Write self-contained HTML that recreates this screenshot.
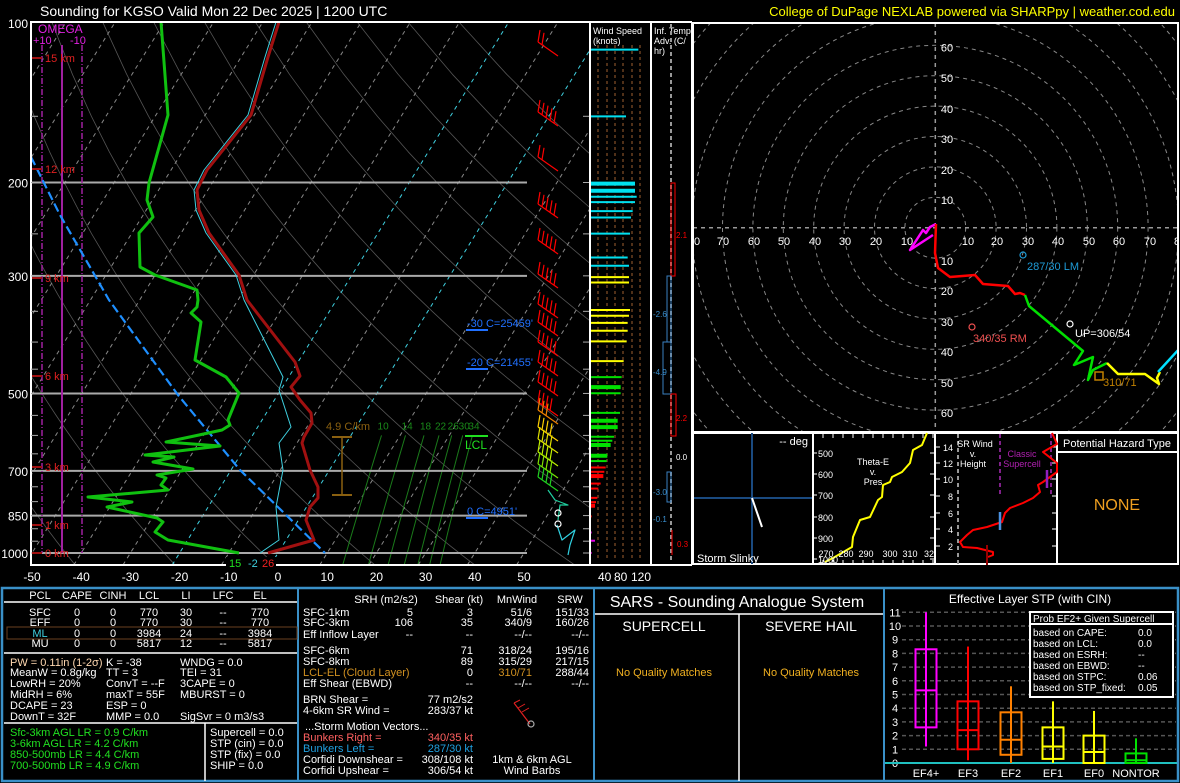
<!DOCTYPE html>
<html><head><meta charset="utf-8">
<style>
html,body{margin:0;padding:0;background:#000;}
svg{display:block;font-family:"Liberation Sans",sans-serif;}
</style></head>
<body>
<svg id="s" width="1180" height="783" viewBox="0 0 1180 783" xmlns="http://www.w3.org/2000/svg">
<rect width="1180" height="783" fill="#000"/>
<defs>
<clipPath id="cs"><rect x="31" y="22" width="559" height="543"/></clipPath>
<clipPath id="ch"><rect x="693" y="23" width="485" height="409"/></clipPath>
</defs>
<g id="skew" clip-path="url(#cs)"></g>
<g id="hodo" clip-path="url(#ch)"></g>
<g id="rest"></g>
<text x="40" y="16" fill="#fff" font-size="14">Sounding for KGSO Valid  Mon 22 Dec 2025 | 1200 UTC</text>
<text x="1175" y="16" fill="#ffff00" font-size="13" text-anchor="end">College of DuPage NEXLAB powered via SHARPpy | weather.cod.edu</text>
</svg>
<script>
var NS="http://www.w3.org/2000/svg";
function el(par,tag,attrs,txt){var e=document.createElementNS(NS,tag);for(var k in attrs)e.setAttribute(k,attrs[k]);if(txt!==undefined)e.textContent=txt;document.getElementById(par).appendChild(e);return e;}
function line(par,x1,y1,x2,y2,c,w,d){var a={x1:x1,y1:y1,x2:x2,y2:y2,stroke:c,"stroke-width":w||1};if(d)a["stroke-dasharray"]=d;return el(par,"line",a);}
function pl(par,pts,c,w,d){var a={points:pts.map(function(p){return p[0]+","+p[1]}).join(" "),fill:"none",stroke:c,"stroke-width":w||1,"stroke-linejoin":"round"};if(d)a["stroke-dasharray"]=d;return el(par,"polyline",a);}
function tx(par,x,y,s,c,fs,anc){return el(par,"text",{x:x,y:y,fill:c,"font-size":fs||11,"text-anchor":anc||"start"},s);}
function Y(p){return 553+230.2*Math.log(p/1000);}
function X(T,y){return 278+4.92*T+0.62*(553-y);}

/* ---------- SKEW-T ---------- */
for(var th=230;th<=470;th+=20){var pts=[];for(var p=1050;p>=100;p-=25){var T=th*Math.pow(p/1000,0.286)-273.15;var y=Y(p);pts.push([X(T,y).toFixed(1),y.toFixed(1)]);}pl("skew",pts,"#555",0.8);}
for(var T=-120;T<=50;T+=10){var c=(T==-20||T==0)?"#3fd0e0":"#888";var y1=565,y2=22;line("skew",X(T,y1),y1,X(T,y2),y2,c,1,"4,4");}
[10,14,18,22,26,30,34].forEach(function(w){var pts=[];for(var p=1050;p>=600;p-=50){var e=w*p/(622+w);var l=Math.log(e/6.112);var Td=243.5*l/(17.67-l);var y=Y(p);pts.push([X(Td,y).toFixed(1),y.toFixed(1)]);}pl("skew",pts,"#1a7a1a",1);var e=w*600/(622+w),l=Math.log(e/6.112),Td=243.5*l/(17.67-l);tx("skew",X(Td,Y(600))-4,Y(600)-6,String(w),"#1a8a1a",10);});
[200,300,500,700,850,1000].forEach(function(p){line("skew",31,Y(p),527,Y(p),"#aaa",2);});
line("skew",62,45,62,553,"#a020a0",2);
line("skew",42,45,42,553,"#a020a0",1.5,"6,2,1,2");
line("skew",82,45,82,553,"#a020a0",1.5,"6,2,1,2");
pl("skew",[[31,157],[60,215],[109,300],[178,395],[240,470],[325,553]],"#1e8fff",2.2,"9,4");
pl("skew",[[276,22],[265,57],[248,115],[204,170],[194,190],[196,210],[206,233],[236,275],[244,300],[283,377],[279,390],[291,427],[279,443],[283,470],[276,507],[279,540],[260,553]],"#3fd0e0",1);
pl("skew",[[279,22],[268,57],[251,115],[207,170],[197,190],[199,210],[209,233],[239,275],[247,300],[295,362],[300,376],[291,387],[300,400],[311,413],[312,423],[304,437],[302,443],[310,470],[318,487],[318,498],[310,507],[306,520],[314,540],[268,553]],"#a01010",3);
pl("skew",[[161,22],[168,115],[149,183],[147,200],[153,217],[139,233],[140,267],[155,275],[197,290],[198,300],[197,307],[191,313],[201,322],[195,360],[226,377],[239,393],[228,420],[230,425],[222,430],[199,435],[166,442],[220,446],[145,455],[174,457],[153,462],[193,469],[157,475],[166,478],[161,485],[168,490],[88,497],[132,502],[107,507],[157,518],[163,522],[155,532],[168,540],[239,553]],"#10c010",3);
line("skew",342,437,342,495,"#8a6010",1.5);line("skew",332,437,352,437,"#8a6010",2);line("skew",332,495,352,495,"#8a6010",2);
function barb(y,c,n){var x0=538,x1=558;line("skew",x0,y-8,x1,y+6,c,1.2);for(var i=0;i<n;i++){var bx=x0+i*4,by=y-8+i*2.8;line("skew",bx,by,bx+2,by-12,c,1.2);}}
[[50,"#f00",2],[120,"#f00",5],[165,"#f00",2],[212,"#f00",5],[248,"#f00",5],[282,"#f00",5],[312,"#f00",5],[330,"#f00",5],[350,"#f00",5],[370,"#f00",5],[390,"#f00",5],[410,"#f00",4],[418,"#f08000",3],[435,"#ffd000",4],[447,"#e0e000",4],[460,"#c0f000",4],[472,"#80e000",4],[485,"#20d020",4]].forEach(function(b){barb(b[0],b[1],b[2]);});
pl("skew",[[548,490],[555,500],[568,505],[560,505],[558,520]],"#20d0a0",1.2);
pl("skew",[[557,525],[562,540],[575,530],[570,545],[568,555]],"#30d0e0",1.2);
el("skew","circle",{cx:558,cy:513,r:3,fill:"none",stroke:"#fff","stroke-width":1.2});
el("skew","circle",{cx:558,cy:524,r:3,fill:"none",stroke:"#fff","stroke-width":1.2});

el("rest","rect",{x:31,y:22,width:559,height:543,fill:"none",stroke:"#fff","stroke-width":2});
[[100,"100"],[200,"200"],[300,"300"],[500,"500"],[700,"700"],[850,"850"],[1000,"1000"]].forEach(function(p){tx("rest",28,Y(p[0])+5,p[1],"#fff",12,"end");});
for(var p=150;p<=1000;p+=50){var y=Y(p);line("rest",31,y,38,y,"#aaa",1);line("rest",583,y,590,y,"#aaa",1);}
for(var T=-50;T<=50;T+=10){tx("rest",X(T,553),581,String(T),"#fff",12,"middle");}
[["15 km",58],["12 km",169],["9 km",278],["6 km",376],["3 km",467],["1 km",525],["0 km",553]].forEach(function(h){line("rest",32,h[1],42,h[1],"#a01010",2);tx("rest",45,h[1]+4,h[0],"#e02020",11);});
tx("rest",38,33,"OMEGA","#e020e0",12);tx("rest",33,44,"+10","#e020e0",11);tx("rest",70,44,"-10","#e020e0",11);
tx("rest",326,430,"4.9 C/km","#8a6010",11);
tx("rest",465,449,"LCL","#20e020",12);line("rest",465,436,488,436,"#20e020",2);
[["-30 C=25459'",327],["-20 C=21455'",366],["0 C=4951'",515]].forEach(function(t){tx("rest",467,t[1],t[0],"#2070ff",11);line("rest",466,t[1]+3,488,t[1]+3,"#2070ff",2);});
el("rest","rect",{x:226,y:557,width:50,height:10,fill:"#000"});
tx("rest",229,567,"15","#20e020",11);tx("rest",248,567,"-2","#3fd0e0",11);tx("rest",262,567,"26","#f02020",11);

/* ---------- wind speed column ---------- */
line("rest",590,22,590,565,"#fff",2);line("rest",651,22,651,565,"#fff",2);line("rest",692,22,692,565,"#fff",2);line("rest",590,565,692,565,"#fff",2);line("rest",590,22,692,22,"#fff",2);
[598,607,615,623,632,640].forEach(function(x){line("rest",x,45,x,560,"#6a4020",1.5,"3,3");});
tx("rest",593,34,"Wind Speed","#fff",9);tx("rest",593,44,"(knots)","#fff",9);
var bars=[[83,175,"#00e0f0",2],[270,138,"#00e0f0",2],[458,165,"#00e0f0",4],[478,165,"#00e0f0",4],[495,170,"#00e0f0",2],[510,165,"#00e0f0",2],[535,158,"#00e0f0",2],[553,153,"#00e0f0",2],[598,150,"#00e0f0",2],[665,143,"#00e0f0",2],[688,147,"#00e0f0",2],[720,147,"#ffff00",2],[735,147,"#ffff00",2],[812,150,"#ffff00",2],[828,147,"#ffff00",2],[848,143,"#ffff00",2],[870,143,"#ffff00",2],[900,140,"#ffff00",2],[955,131,"#ffff00",2],[1000,125,"#00e000",2],[1028,122,"#00e000",4],[1045,122,"#00e000",2],[1100,120,"#00e000",2],[1122,113,"#00e000",4],[1140,113,"#00e000",4],[1167,102,"#00e000",2],[1178,97,"#00e000",2],[1190,92,"#00e000",4],[1220,82,"#00e000",4],[1235,80,"#00e000",2],[1253,77,"#f00",2],[1265,73,"#f00",2],[1277,70,"#f00",4],[1298,62,"#f00",2],[1312,55,"#f00",2],[1338,52,"#f00",2],[1350,48,"#f00",2],[1360,45,"#f00",4],[1390,35,"#f00",2],[1435,35,"#e000e0",2],[1458,45,"#e000e0",2],[1492,35,"#e000e0",2]];
bars.forEach(function(b){var y=20+b[0]/2.8;line("rest",591,y,580+b[1]/3,y,b[2],b[3]);});
tx("rest",598,581,"40","#fff",12);tx("rest",614,581,"80","#fff",12);tx("rest",631,581,"120","#fff",12);
tx("rest",654,34,"Inf. Temp.","#fff",9);tx("rest",654,44,"Adv. (C/","#fff",9);tx("rest",654,54,"hr)","#fff",9);
line("rest",671,24,671,563,"#999",2,"4,3");
el("rest","rect",{x:671,y:183,width:4,height:93,fill:"none",stroke:"#f00","stroke-width":1});tx("rest",676,238,"2.1","#f00",8);
el("rest","rect",{x:667,y:276,width:4,height:66,fill:"none",stroke:"#3a80c0","stroke-width":1});tx("rest",653,317,"-2.6","#3a90d0",8);
el("rest","rect",{x:663,y:342,width:8,height:52,fill:"none",stroke:"#3a80c0","stroke-width":1});tx("rest",653,375,"-4.9","#3a90d0",8);
el("rest","rect",{x:671,y:394,width:5,height:42,fill:"none",stroke:"#f00","stroke-width":1});tx("rest",676,421,"2.2","#f00",8);
tx("rest",676,460,"0.0","#fff",8);
el("rest","rect",{x:667,y:472,width:4,height:30,fill:"none",stroke:"#3a80c0","stroke-width":1});tx("rest",653,495,"-3.0","#3a90d0",8);
tx("rest",653,522,"-0.1","#3a90d0",8);line("rest",672,530,672,555,"#f00",1);tx("rest",677,547,"0.3","#f00",8);

/* ---------- HODOGRAPH ---------- */
var cx=935.3,cy=227.7,r=30.4;
for(var k=1;k<=10;k++)el("hodo","circle",{cx:cx,cy:cy,r:k*r,fill:"none",stroke:"#888","stroke-width":1,"stroke-dasharray":"4,4"});
line("hodo",693,cy,1178,cy,"#999",1.5,"4,4");line("hodo",cx,23,cx,432,"#999",1.5,"4,4");
[[697,"0"],[723,"70"],[754,"60"],[784,"50"],[815,"40"],[845,"30"],[876,"20"],[907,"10"],[968,"10"],[997,"20"],[1028,"30"],[1058,"40"],[1089,"50"],[1119,"60"],[1150,"70"],[1177,"8"]].forEach(function(l){tx("hodo",l[0],245,l[1],"#fff",11,"middle");});
[[47.7,60],[78,50],[109,40],[139,30],[170,20],[200,10],[261,10],[291,20],[322,30],[352,40],[383,50],[413,60]].forEach(function(l){tx("hodo",947,l[0]+4,String(l[1]),"#fff",11,"middle");});
pl("hodo",[[933,235],[910,250],[923,230],[926,233],[930,227],[936,224]],"#ff00ff",2.5);
pl("hodo",[[936,224],[935,253],[938,268],[950,277],[975,275],[983,284],[1008,286],[1015,294],[1020,293],[1025,295]],"#f00",2.5);
pl("hodo",[[1025,295],[1029,306],[1083,351],[1074,365],[1093,357],[1088,380],[1093,370],[1107,363]],"#00e000",2.5);
pl("hodo",[[1107,363],[1118,374],[1145,374],[1159,384],[1157,378],[1160,372]],"#ffff00",2.5);
pl("hodo",[[1158,372],[1180,348]],"#00e0ff",2.5);
el("hodo","circle",{cx:1023,cy:255,r:3,fill:"none",stroke:"#1e9bd7","stroke-width":1.2});tx("hodo",1027,270,"287/30 LM","#1e9bd7",11);
el("hodo","circle",{cx:972,cy:327,r:3,fill:"none",stroke:"#f05050","stroke-width":1.2});tx("hodo",973,342,"340/35 RM","#f05050",11);
el("hodo","circle",{cx:1070,cy:324,r:3,fill:"none",stroke:"#fff","stroke-width":1.2});tx("hodo",1075,337,"UP=306/54","#fff",11);
el("hodo","rect",{x:1095,y:372,width:8,height:8,fill:"none",stroke:"#c08000","stroke-width":1.5});tx("hodo",1103,386,"310/71","#c08000",11);
el("rest","rect",{x:693,y:23,width:485,height:409,fill:"none",stroke:"#fff","stroke-width":2});

/* ---------- small panels ---------- */
el("rest","rect",{x:693,y:433,width:485,height:131,fill:"none",stroke:"#fff","stroke-width":2});
[813,935,1057].forEach(function(x){line("rest",x,433,x,564,"#fff",2);});
line("rest",752,433,752,564,"#1a4a80",2);line("rest",694,498,812,498,"#1a4a80",2);line("rest",752,498,762,527,"#fff",2);
tx("rest",808,445,"-- deg","#fff",11,"end");tx("rest",697,562,"Storm Slinky","#fff",11);
pl("rest",[[927,433],[922,445],[913,450],[910,463],[902,472],[892,477],[890,482],[883,485],[882,497],[878,500],[870,517],[860,520],[853,537],[852,547],[833,558],[825,562]],"#ffff00",2);
[[453,"500"],[474,"600"],[495,"700"],[517,"800"],[538,"900"],[559,"1000"]].forEach(function(l){tx("rest",818,l[0]+4,l[1],"#fff",9);line("rest",813,l[0],817,l[0],"#fff",1);line("rest",930,l[0],935,l[0],"#fff",1);});
[[826,"270"],[846,"280"],[866,"290"],[890,"300"],[910,"310"],[929,"32"]].forEach(function(l){tx("rest",l[0],557,l[1],"#fff",9,"middle");});
for(var x=823;x<935;x+=10){line("rest",x,434,x,438,"#fff",1);line("rest",x,560,x,564,"#fff",1);}
tx("rest",873,465,"Theta-E","#fff",9,"middle");tx("rest",873,475,"v.","#fff",9,"middle");tx("rest",873,485,"Pres","#fff",9,"middle");
line("rest",958,434,958,564,"#999",2,"4,3");
line("rest",1000,434,1000,496,"#80208a",2,"4,3");line("rest",1051,434,1051,496,"#80208a",2,"4,3");
[[447,"14"],[463,"12"],[479,"10"],[496,"8"],[513,"6"],[529,"4"],[546,"2"]].forEach(function(l){tx("rest",953,l[0]+4,l[1],"#fff",9,"end");line("rest",935,l[0],940,l[0],"#fff",1);line("rest",1052,l[0],1057,l[0],"#fff",1);});
tx("rest",975,447,"SR Wind","#fff",9,"middle");tx("rest",973,457,"v.","#fff",9,"middle");tx("rest",973,467,"Height","#fff",9,"middle");
tx("rest",1022,457,"Classic","#b020b0",9,"middle");tx("rest",1022,467,"Supercell","#b020b0",9,"middle");
pl("rest",[[1052,433],[1057,444],[1043,452],[1057,463],[1057,472],[1043,482],[1038,485],[1040,492],[1033,498],[1023,503],[1010,508],[1005,513],[1002,522],[987,527],[973,530],[967,535],[960,542],[963,547],[977,548],[993,552],[993,555],[988,557]],"#f00",2);
line("rest",1000,512,1000,530,"#4a90e0",2.5);line("rest",1047,470,1047,488,"#9020c0",2.5);line("rest",987,545,987,565,"#900",2);
line("rest",1057,452,1178,452,"#fff",2);
tx("rest",1117,447,"Potential Hazard Type","#fff",11,"middle");tx("rest",1117,510,"NONE","#f0a020",16,"middle");

/* ---------- BOTTOM PANEL ---------- */
el("rest","rect",{x:2,y:588,width:1176,height:193,fill:"none",stroke:"#3a90c8","stroke-width":2.5});
[298,594,884].forEach(function(x){line("rest",x,588,x,782,"#3a90c8",2);});
line("rest",4,602,297,602,"#fff",1.5);line("rest",4,653,297,653,"#fff",1.5);line("rest",4,723,297,723,"#fff",1.5);line("rest",205,723,205,781,"#fff",1.5);
[["PCL",40],["CAPE",77],["CINH",113],["LCL",149],["LI",186],["LFC",223],["EL",260]].forEach(function(h){tx("rest",h[1],599,h[0],"#fff",11,"middle");});
el("rest","rect",{x:7,y:627,width:290,height:12,fill:"none",stroke:"#6a4020","stroke-width":1});
[[616,"SFC","#fff",["0","0","770","30","--","770"]],[626,"EFF","#fff",["0","0","770","30","--","770"]],[637,"ML","#3fd0e0",["0","0","3984","24","--","3984"]],[647,"MU","#fff",["0","0","5817","12","--","5817"]]].forEach(function(r){tx("rest",40,r[0],r[1],r[2],11,"middle");[77,113,149,186,223,260].forEach(function(x,i){tx("rest",x,r[0],r[3][i],"#fff",11,"middle");});});
var ind=[[666,"PW = 0.11in (1-2σ)","K = -38","WNDG = 0.0"],[676,"MeanW = 0.8g/kg","TT = 3","TEI = 31"],[687,"LowRH = 20%","ConvT = --F","3CAPE = 0"],[698,"MidRH = 6%","maxT = 55F","MBURST = 0"],[709,"DCAPE = 23","ESP = 0",""],[720,"DownT = 32F","MMP = 0.0","SigSvr = 0 m3/s3"]];
ind.forEach(function(r,i){tx("rest",10,r[0],r[1],i==0?"#ffd8b0":"#fff",11);tx("rest",106,r[0],r[2],"#fff",11);tx("rest",180,r[0],r[3],"#fff",11);});
[[736,"Sfc-3km AGL LR = 0.9 C/km"],[747,"3-6km AGL LR = 4.2 C/km"],[758,"850-500mb LR = 4.4 C/km"],[769,"700-500mb LR = 4.9 C/km"]].forEach(function(r){tx("rest",10,r[0],r[1],"#20e020",11);});
[[736,"Supercell = 0.0"],[747,"STP (cin) = 0.0"],[758,"STP (fix) = 0.0"],[769,"SHIP = 0.0"]].forEach(function(r){tx("rest",210,r[0],r[1],"#fff",11);});
tx("rest",386,603,"SRH (m2/s2)","#fff",11,"middle");tx("rest",459,603,"Shear (kt)","#fff",11,"middle");tx("rest",517,603,"MnWind","#fff",11,"middle");tx("rest",570,603,"SRW","#fff",11,"middle");
var mid=[[616,"SFC-1km","5","3","51/6","151/33","#fff"],[626,"SFC-3km","106","35","340/9","160/26","#fff"],[638,"Eff Inflow Layer","--","--","--/--","--/--","#fff"],[654,"SFC-6km","","71","318/24","195/16","#fff"],[665,"SFC-8km","","89","315/29","217/15","#fff"],[676,"LCL-EL (Cloud Layer)","","0","310/71","288/44","#d09020"],[687,"Eff Shear (EBWD)","","--","--/--","--/--","#fff"]];
mid.forEach(function(r){tx("rest",303,r[0],r[1],r[6],11);tx("rest",413,r[0],r[2],"#fff",11,"end");tx("rest",473,r[0],r[3],"#fff",11,"end");tx("rest",532,r[0],r[4],r[6]=="#fff"?"#fff":"#d09020",11,"end");tx("rest",589,r[0],r[5],"#fff",11,"end");});
var sm=[[703,"BRN Shear =","77 m2/s2","#fff","#fff"],[714,"4-6km SR Wind =","283/37 kt","#fff","#fff"],[741,"Bunkers Right =","340/35 kt","#ff6060","#ff6060"],[752,"Bunkers Left =","287/30 kt","#20a0e0","#20a0e0"],[763,"Corfidi Downshear =","308/108 kt","#fff","#fff"],[774,"Corfidi Upshear =","306/54 kt","#fff","#fff"]];
sm.forEach(function(r){tx("rest",303,r[0],r[1],r[3],11);tx("rest",473,r[0],r[2],r[4],11,"end");});
tx("rest",305,730,"...Storm Motion Vectors...","#fff",11);
tx("rest",532,763,"1km & 6km AGL","#fff",11,"middle");tx("rest",532,774,"Wind Barbs","#fff",11,"middle");
line("rest",514,703,530,724,"#e02020",1.2);line("rest",514,703,520,700,"#e02020",1);line("rest",518,708,525,704,"#e02020",1);line("rest",522,712,529,708,"#e02020",1);
el("rest","circle",{cx:531,cy:724,r:3,fill:"none",stroke:"#aaa","stroke-width":1.2});
tx("rest",737,607,"SARS - Sounding Analogue System","#fff",16,"middle");
line("rest",595,614,883,614,"#fff",1.5);line("rest",739,614,739,781,"#fff",1.5);
tx("rest",664,631,"SUPERCELL","#fff",14,"middle");tx("rest",811,631,"SEVERE HAIL","#fff",14,"middle");
tx("rest",664,676,"No Quality Matches","#f0b020",11,"middle");tx("rest",811,676,"No Quality Matches","#f0b020",11,"middle");
tx("rest",1030,603,"Effective Layer STP (with CIN)","#fff",12,"middle");
function SY(v){return 763-v*13.7;}
for(var v=0;v<=11;v++){if(v>0)line("rest",902,SY(v),1176,SY(v),"#555",1.5,"4,3");tx("rest",895,SY(v)+4,String(v),"#fff",11,"middle");}
line("rest",885,763,1177,763,"#20c0c0",2);
[[926,"EF4+","#ff00ff",1.2,11,2.6,8.3,5.3],[968,"EF3","#f00",0.2,8.5,1.0,4.5,2.4],[1011,"EF2","#ff8000",0,5.6,0.6,3.7,1.7],[1053,"EF1","#ffff00",0,4.5,0.3,2.6,1.2],[1094,"EF0","#ffff00",0,3.8,0,2.0,0.8],[1136,"NONTOR","#00e000",0,1.8,0,0.7,0.2]].forEach(function(b){var x=b[0],c=b[2];line("rest",x,SY(b[3]),x,SY(b[4]),c,2);el("rest","rect",{x:x-10.5,y:SY(b[6]),width:21,height:SY(b[5])-SY(b[6]),fill:"none",stroke:c,"stroke-width":2});line("rest",x-10.5,SY(b[7]),x+10.5,SY(b[7]),c,2);tx("rest",x,777,b[1],"#fff",11,"middle");});
el("rest","rect",{x:1030,y:612,width:143,height:85,fill:"#000",stroke:"#fff","stroke-width":2});
line("rest",1030,624,1173,624,"#fff",2);
tx("rest",1033,622,"Prob EF2+ Given Supercell","#fff",10);
[["based on CAPE:","0.0"],["based on LCL:","0.0"],["based on ESRH:","--"],["based on EBWD:","--"],["based on STPC:","0.06"],["based on STP_fixed:","0.05"]].forEach(function(r,i){var y=636+i*11;tx("rest",1033,y,r[0],"#fff",10);tx("rest",1138,y,r[1],"#fff",10);});
</script>
</body></html>
